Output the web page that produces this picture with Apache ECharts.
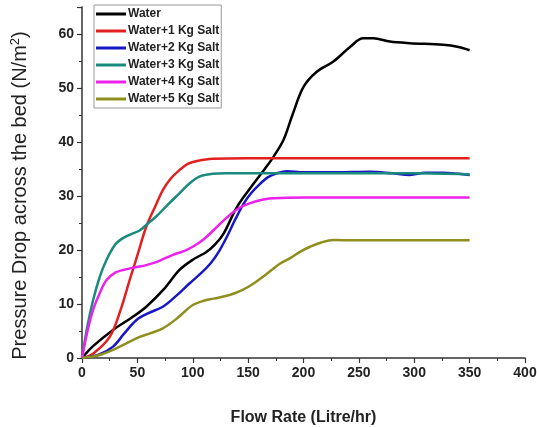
<!DOCTYPE html>
<html>
<head>
<meta charset="utf-8">
<script src="https://cdn.jsdelivr.net/npm/echarts@6/dist/echarts.min.js"></script>
<style>
    html, body { margin: 0; padding: 0; background: #fff; }
    #chart { width: 537px; height: 427px; }
</style>
</head>
<body>
<div id="chart"></div>
<script>
    'use strict';

    // [flow rate, pressure drop]
    var water = [[0, 0], [10, 2.2], [28, 5.2], [45, 7.5], [58, 9.5], [75, 13], [88, 16.3], [100, 18.2], [112, 19.6],
        [120, 21], [128, 23.1], [140, 28], [155, 32.3], [165, 35], [173, 37.3], [182, 40.4], [190, 45], [200, 50.2],
        [212, 53], [227, 54.9], [242, 57.6], [254, 59.2], [263, 59.2], [278, 58.6], [296, 58.3], [326, 58.0],
        [340, 57.6], [350, 57.0]];
    var salt1 = [[0, 0], [10, 0.8], [25, 3.9], [35, 9], [43, 14.4], [50, 19], [58, 24.3], [66, 28], [73, 31.1],
        [80, 33.2], [88, 34.8], [96, 36], [104, 36.5], [118, 36.9], [150, 37], [200, 37], [250, 37], [300, 37], [350, 37]];
    var salt2 = [[0, 0], [15, 0.6], [28, 2.1], [38, 4.5], [49, 7], [60, 8.3], [73, 9.5], [85, 11.5], [97, 13.8],
        [108, 15.8], [116, 17.5], [123, 19.5], [131, 22.5], [138, 25.5], [146, 28.6], [153, 30.6], [161, 32.3],
        [168, 33.5], [176, 34.2], [185, 34.6], [200, 34.4], [230, 34.4], [260, 34.5], [280, 34.2], [296, 33.9],
        [310, 34.3], [326, 34.3], [340, 34.1], [350, 33.9]];
    var salt3 = [[0, 0], [5, 6], [10, 10.7], [16, 15], [22, 18.1], [30, 21], [37, 22.2], [45, 23], [52, 23.6],
        [60, 25], [67, 26.2], [78, 28.5], [88, 30.5], [97, 32.3], [106, 33.6], [118, 34.1], [130, 34.2],
        [200, 34.2], [300, 34.2], [350, 34.0]];
    var salt4 = [[0, 0], [5, 5], [10, 8.9], [16, 12], [22, 14.4], [30, 15.8], [37, 16.3], [48, 16.8], [58, 17.2],
        [70, 18], [82, 19.1], [92, 19.8], [100, 20.6], [110, 22], [119, 23.7], [128, 25.5], [137, 27.1],
        [146, 28.2], [155, 28.9], [165, 29.4], [173, 29.6], [200, 29.7], [250, 29.7], [300, 29.7], [350, 29.7]];
    var salt5 = [[0, 0], [15, 0.5], [28, 1.5], [40, 2.7], [52, 3.9], [62, 4.6], [73, 5.5], [85, 7.2], [100, 9.8],
        [110, 10.6], [119, 11], [134, 11.7], [145, 12.6], [155, 13.8], [165, 15.3], [179, 17.5], [188, 18.5],
        [198, 19.8], [206, 20.6], [216, 21.4], [227, 21.85], [248, 21.8], [300, 21.8], [350, 21.8]];

    var seriesNames = ['Water', 'Water+1 Kg Salt', 'Water+2 Kg Salt', 'Water+3 Kg Salt', 'Water+4 Kg Salt', 'Water+5 Kg Salt'];
    var seriesData = [water, salt1, salt2, salt3, salt4, salt5];
    var chartColor = ['#000000', '#e3201f', '#1717c4', '#1a8a7e', '#ec22ec', '#8f8f1e'];

    var font = 'Liberation Sans, Arial, sans-serif';

    var series = [];
    for (var i = 0; i < seriesData.length; i++) {
        series.push({
            name: seriesNames[i],
            type: 'line',
            data: seriesData[i],
            smooth: 0.35,
            showSymbol: false,
            lineStyle: { width: 2.5, color: chartColor[i] },
            itemStyle: { color: chartColor[i] }
        });
    }

    var chart = echarts.init(document.getElementById('chart'));
    chart.setOption({
        animation: false,
        color: chartColor,
        grid: { left: 82, right: 12, top: 7, bottom: 69, outerBoundsMode: 'none' },
        legend: {
            orient: 'vertical',
            left: 94,
            top: 5,
            icon: 'rect',
            itemWidth: 30,
            itemHeight: 3,
            itemGap: 5,
            padding: [3, 2, 3, 2],
            borderColor: '#999',
            borderWidth: 1,
            data: seriesNames,
            textStyle: { fontFamily: font, fontWeight: 'bold', fontSize: 12, color: '#222', padding: [0, 0, 0, -3] }
        },
        xAxis: {
            type: 'value',
            min: 0,
            max: 400,
            interval: 50,
            name: 'Flow Rate (Litre/hr)',
            nameLocation: 'middle',
            nameGap: 52,
            nameTextStyle: { fontFamily: font, fontWeight: 'bold', fontSize: 16, color: '#222' },
            axisLine: { lineStyle: { color: '#333', width: 1.5 } },
            axisTick: { length: 5, lineStyle: { color: '#333', width: 1.2 } },
            minorTick: { show: true, splitNumber: 2, length: 3, lineStyle: { color: '#333' } },
            splitLine: { show: false },
            axisLabel: { fontFamily: font, fontWeight: 'bold', fontSize: 14, color: '#222', margin: 8 }
        },
        yAxis: {
            type: 'value',
            min: 0,
            max: 65,
            interval: 10,
            name: 'Pressure Drop across the bed (N/m{sup|2})',
            nameLocation: 'middle',
            nameGap: 50,
            nameRotate: 90,
            nameTextStyle: {
                fontFamily: font, fontSize: 20, color: '#222', padding: [0, 26, 0, 0],
                rich: { sup: { fontFamily: font, fontSize: 13, color: '#222', verticalAlign: 'top', padding: [0, 0, 10, 0] } }
            },
            axisLine: { show: true, lineStyle: { color: '#333', width: 1.5 } },
            axisTick: { show: true, length: 5, lineStyle: { color: '#333', width: 1.2 } },
            minorTick: { show: true, splitNumber: 2, length: 3, lineStyle: { color: '#333' } },
            splitLine: { show: false },
            axisLabel: { fontFamily: font, fontWeight: 'bold', fontSize: 14, color: '#222', margin: 8, showMaxLabel: false }
        },
        series: series
    });
</script>
</body>
</html>
